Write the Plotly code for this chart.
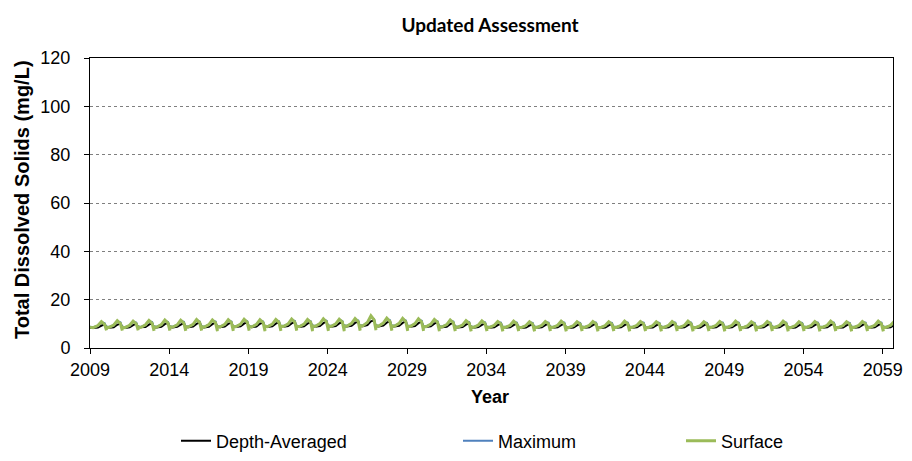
import plotly.graph_objects as go

# ---- data (6 samples per year, positions within the year) ----
years = list(range(2009, 2060))
sample_fractions = [0.0, 0.2, 0.5, 0.72, 0.92, 1.04]

surface_rows = [
    [8.6, 8.4, 9.3, 10.9, 9.8, 7.3], [8.7, 8.5, 9.5, 11.3, 10.1, 7.2],
    [8.7, 8.4, 9.4, 11.1, 10.0, 7.3], [8.8, 8.5, 9.6, 11.4, 10.2, 7.1],
    [8.8, 8.6, 9.7, 11.6, 10.3, 7.2], [8.9, 8.6, 9.6, 11.5, 10.3, 7.1],
    [8.9, 8.7, 9.8, 11.8, 10.5, 7.2], [8.9, 8.6, 9.7, 11.6, 10.4, 7.0],
    [9.0, 8.7, 9.8, 11.7, 10.5, 7.1], [9.0, 8.8, 9.9, 11.9, 10.6, 7.2],
    [9.0, 8.7, 9.8, 11.7, 10.5, 7.0], [9.1, 8.8, 9.9, 11.8, 10.6, 7.1],
    [9.1, 8.9, 10.0, 12.0, 10.7, 7.2], [9.1, 8.8, 9.9, 11.8, 10.6, 7.0],
    [9.2, 8.9, 10.1, 12.1, 10.8, 7.1], [9.2, 8.9, 10.0, 11.9, 10.7, 7.0],
    [9.2, 9.0, 10.2, 12.2, 10.9, 7.2], [9.3, 9.1, 10.6, 13.3, 11.6, 7.4],
    [9.3, 9.0, 10.3, 12.4, 11.0, 7.2], [9.2, 9.0, 10.2, 12.3, 10.9, 7.1],
    [9.1, 8.9, 10.1, 12.1, 10.8, 7.1], [9.0, 8.8, 9.9, 11.8, 10.6, 7.0],
    [8.9, 8.7, 9.7, 11.6, 10.4, 7.0], [8.8, 8.6, 9.5, 11.3, 10.2, 6.9],
    [8.8, 8.5, 9.5, 11.2, 10.1, 7.0], [8.7, 8.5, 9.4, 11.0, 10.0, 6.9],
    [8.7, 8.5, 9.4, 11.1, 10.0, 7.0], [8.7, 8.4, 9.3, 10.9, 9.9, 6.9],
    [8.7, 8.5, 9.4, 11.0, 10.0, 7.0], [8.7, 8.5, 9.4, 11.1, 10.0, 6.9],
    [8.6, 8.4, 9.3, 10.9, 9.9, 7.0], [8.7, 8.5, 9.4, 11.0, 10.0, 6.9],
    [8.6, 8.4, 9.3, 10.9, 9.9, 7.0], [8.7, 8.5, 9.4, 11.1, 10.0, 6.9],
    [8.7, 8.5, 9.4, 11.0, 10.0, 7.0], [8.6, 8.4, 9.3, 10.9, 9.9, 6.9],
    [8.7, 8.5, 9.4, 11.0, 10.0, 7.0], [8.7, 8.5, 9.4, 11.1, 10.0, 6.9],
    [8.6, 8.4, 9.3, 10.9, 9.9, 7.0], [8.7, 8.5, 9.4, 11.0, 10.0, 6.9],
    [8.7, 8.5, 9.4, 11.1, 10.0, 7.0], [8.6, 8.4, 9.3, 10.9, 9.9, 6.9],
    [8.7, 8.5, 9.4, 11.0, 10.0, 7.0], [8.7, 8.5, 9.4, 11.1, 10.0, 6.9],
    [8.6, 8.4, 9.3, 10.9, 9.9, 7.0], [8.7, 8.5, 9.4, 11.0, 10.0, 6.9],
    [8.7, 8.5, 9.4, 11.1, 10.0, 7.0], [8.6, 8.4, 9.3, 10.9, 9.9, 6.9],
    [8.7, 8.5, 9.4, 11.0, 10.0, 7.0], [8.7, 8.5, 9.4, 11.1, 10.0, 6.9],
    [8.7, 8.5, 9.4, 11.0, 10.0, 7.0],
]

maximum_rows = [
    [8.8, 8.6, 9.2, 10.6, 10.3, 8.1], [8.9, 8.7, 9.4, 11.0, 10.6, 8.0],
    [8.9, 8.6, 9.3, 10.8, 10.5, 8.1], [9.0, 8.7, 9.5, 11.1, 10.7, 7.9],
    [9.0, 8.8, 9.6, 11.3, 10.8, 8.0], [9.1, 8.8, 9.5, 11.2, 10.8, 7.9],
    [9.1, 8.9, 9.7, 11.5, 11.0, 8.0], [9.1, 8.8, 9.6, 11.3, 10.9, 7.8],
    [9.2, 8.9, 9.7, 11.4, 11.0, 7.9], [9.2, 9.0, 9.8, 11.6, 11.1, 8.0],
    [9.2, 8.9, 9.7, 11.4, 11.0, 7.8], [9.3, 9.0, 9.8, 11.5, 11.1, 7.9],
    [9.3, 9.1, 9.9, 11.7, 11.2, 8.0], [9.3, 9.0, 9.8, 11.5, 11.1, 7.8],
    [9.4, 9.1, 10.0, 11.8, 11.3, 7.9], [9.4, 9.1, 9.9, 11.6, 11.2, 7.8],
    [9.4, 9.2, 10.1, 11.9, 11.4, 8.0], [9.5, 9.3, 10.5, 12.9, 12.0, 8.2],
    [9.5, 9.2, 10.2, 12.1, 11.5, 8.0], [9.4, 9.2, 10.1, 12.0, 11.4, 7.9],
    [9.3, 9.1, 10.0, 11.8, 11.3, 7.9], [9.2, 9.0, 9.8, 11.5, 11.1, 7.8],
    [9.1, 8.9, 9.6, 11.3, 10.9, 7.8], [9.0, 8.8, 9.4, 11.0, 10.7, 7.7],
    [9.0, 8.7, 9.4, 10.9, 10.6, 7.8], [8.9, 8.7, 9.3, 10.7, 10.5, 7.7],
    [8.9, 8.7, 9.3, 10.8, 10.5, 7.8], [8.9, 8.6, 9.2, 10.6, 10.4, 7.7],
    [8.9, 8.7, 9.3, 10.7, 10.5, 7.8], [8.9, 8.7, 9.3, 10.8, 10.5, 7.7],
    [8.8, 8.6, 9.2, 10.6, 10.4, 7.8], [8.9, 8.7, 9.3, 10.7, 10.5, 7.7],
    [8.8, 8.6, 9.2, 10.6, 10.4, 7.8], [8.9, 8.7, 9.3, 10.8, 10.5, 7.7],
    [8.9, 8.7, 9.3, 10.7, 10.5, 7.8], [8.8, 8.6, 9.2, 10.6, 10.4, 7.7],
    [8.9, 8.7, 9.3, 10.7, 10.5, 7.8], [8.9, 8.7, 9.3, 10.8, 10.5, 7.7],
    [8.8, 8.6, 9.2, 10.6, 10.4, 7.8], [8.9, 8.7, 9.3, 10.7, 10.5, 7.7],
    [8.9, 8.7, 9.3, 10.8, 10.5, 7.8], [8.8, 8.6, 9.2, 10.6, 10.4, 7.7],
    [8.9, 8.7, 9.3, 10.7, 10.5, 7.8], [8.9, 8.7, 9.3, 10.8, 10.5, 7.7],
    [8.8, 8.6, 9.2, 10.6, 10.4, 7.8], [8.9, 8.7, 9.3, 10.7, 10.5, 7.7],
    [8.9, 8.7, 9.3, 10.8, 10.5, 7.8], [8.8, 8.6, 9.2, 10.6, 10.4, 7.7],
    [8.9, 8.7, 9.3, 10.7, 10.5, 7.8], [8.9, 8.7, 9.3, 10.8, 10.5, 7.7],
    [8.9, 8.7, 9.3, 10.7, 10.5, 7.8],
]

depth_avg_rows = [
    [8.4, 8.3, 8.5, 9.3, 9.9, 8.6], [8.5, 8.4, 8.6, 9.6, 10.2, 8.6],
    [8.5, 8.3, 8.6, 9.5, 10.1, 8.6], [8.6, 8.4, 8.7, 9.7, 10.3, 8.5],
    [8.6, 8.5, 8.8, 9.9, 10.4, 8.6], [8.7, 8.5, 8.8, 9.8, 10.4, 8.5],
    [8.7, 8.6, 8.9, 10.0, 10.6, 8.6], [8.7, 8.5, 8.8, 9.9, 10.5, 8.5],
    [8.8, 8.6, 8.9, 10.0, 10.6, 8.5], [8.8, 8.7, 9.0, 10.1, 10.7, 8.6],
    [8.8, 8.6, 8.9, 10.0, 10.6, 8.5], [8.9, 8.7, 9.0, 10.1, 10.7, 8.5],
    [8.9, 8.8, 9.1, 10.2, 10.8, 8.6], [8.9, 8.7, 9.0, 10.1, 10.7, 8.5],
    [9.0, 8.8, 9.1, 10.3, 10.9, 8.5], [9.0, 8.8, 9.1, 10.2, 10.8, 8.5],
    [9.0, 8.9, 9.2, 10.4, 11.0, 8.6], [9.1, 9.0, 9.5, 11.0, 11.5, 8.8],
    [9.1, 8.9, 9.3, 10.5, 11.1, 8.6], [9.0, 8.9, 9.2, 10.4, 11.0, 8.5],
    [8.9, 8.8, 9.1, 10.3, 10.9, 8.5], [8.8, 8.7, 9.0, 10.1, 10.7, 8.5],
    [8.7, 8.6, 8.8, 9.9, 10.5, 8.4], [8.6, 8.5, 8.7, 9.7, 10.3, 8.4],
    [8.6, 8.4, 8.7, 9.6, 10.2, 8.4], [8.5, 8.4, 8.6, 9.5, 10.1, 8.3],
    [8.5, 8.4, 8.6, 9.5, 10.1, 8.4], [8.5, 8.3, 8.5, 9.4, 10.0, 8.3],
    [8.5, 8.4, 8.6, 9.5, 10.1, 8.4], [8.5, 8.4, 8.6, 9.5, 10.1, 8.3],
    [8.4, 8.3, 8.5, 9.4, 10.0, 8.4], [8.5, 8.4, 8.6, 9.5, 10.1, 8.3],
    [8.4, 8.3, 8.5, 9.4, 10.0, 8.4], [8.5, 8.4, 8.6, 9.5, 10.1, 8.3],
    [8.5, 8.4, 8.6, 9.5, 10.1, 8.4], [8.4, 8.3, 8.5, 9.4, 10.0, 8.3],
    [8.5, 8.4, 8.6, 9.5, 10.1, 8.4], [8.5, 8.4, 8.6, 9.5, 10.1, 8.3],
    [8.4, 8.3, 8.5, 9.4, 10.0, 8.4], [8.5, 8.4, 8.6, 9.5, 10.1, 8.3],
    [8.5, 8.4, 8.6, 9.5, 10.1, 8.4], [8.4, 8.3, 8.5, 9.4, 10.0, 8.3],
    [8.5, 8.4, 8.6, 9.5, 10.1, 8.4], [8.5, 8.4, 8.6, 9.5, 10.1, 8.3],
    [8.4, 8.3, 8.5, 9.4, 10.0, 8.4], [8.5, 8.4, 8.6, 9.5, 10.1, 8.3],
    [8.5, 8.4, 8.6, 9.5, 10.1, 8.4], [8.4, 8.3, 8.5, 9.4, 10.0, 8.3],
    [8.5, 8.4, 8.6, 9.5, 10.1, 8.4], [8.5, 8.4, 8.6, 9.5, 10.1, 8.3],
    [8.5, 8.4, 8.6, 9.5, 10.1, 8.4],
]

tick_years = list(range(2009, 2060, 5))
y_ticks = [0, 20, 40, 60, 80, 100, 120]

# ---- build time axis from years and sample positions ----
x = [yr + f for yr in years for f in sample_fractions]
def flat(rows):
    return [v for r in rows for v in r]

series = [
    ("Depth-Averaged", flat(depth_avg_rows), "#000000", 2.0, "legend"),
    ("Maximum", flat(maximum_rows), "#4F81BD", 2.0, "legend2"),
    ("Surface", flat(surface_rows), "#9BBB59", 3.0, "legend3"),
]

fig = go.Figure()
for name, vals, color, w, lg in series:
    fig.add_trace(go.Scatter(x=x, y=vals, mode="lines", name=name,
                             line=dict(color=color, width=w), legend=lg))

FONT = "Liberation Sans, Arial, sans-serif"
FS = 18
# page body has an 8px default margin; figure is sized so the plot lands in place
W, H = 904, 453
L, T, R, B = 82, 50, 19, 113
PW, PH = W - L - R, H - T - B

def px_x(p):   # window pixel -> paper x
    return (p - 8 - L) / PW
def px_y(p):   # window pixel -> paper y
    return 1 - (p - 8 - T) / PH

leg_common = dict(orientation="h", yanchor="middle", xanchor="left",
                  bgcolor="rgba(0,0,0,0)", font=dict(family=FONT, size=FS, color="#000"))

fig.update_layout(
    width=W, height=H,
    margin=dict(l=L, r=R, t=T, b=B, autoexpand=False),
    paper_bgcolor="white", plot_bgcolor="white",
    title=dict(text="<b>Updated Assessment</b>", xref="container", yref="container",
               x=(490 - 8) / W, xanchor="center", y=1 - (25 - 8) / H, yanchor="middle",
               font=dict(family="Lato, Open Sans, sans-serif", size=19, color="#000")),
    showlegend=True,
    legend=dict(x=px_x(176), y=px_y(441), **leg_common),
    legend2=dict(x=px_x(458), y=px_y(441), **leg_common),
    legend3=dict(x=px_x(681), y=px_y(441), **leg_common),
    xaxis=dict(range=[2009, 2059.65], tickmode="array", tickvals=tick_years,
               ticktext=[str(t) for t in tick_years],
               ticks="outside", ticklen=5, tickcolor="#000", tickwidth=1,
               ticklabelstandoff=0, automargin=False,
               showline=True, linecolor="#000", linewidth=1, mirror=True,
               showgrid=False, zeroline=False,
               tickfont=dict(family=FONT, size=FS, color="#000")),
    yaxis=dict(range=[0, 120], tickmode="array", tickvals=y_ticks,
               ticks="outside", ticklen=5, tickcolor="#000", tickwidth=1,
               ticklabelstandoff=10, automargin=False,
               showline=True, linecolor="#000", linewidth=1, mirror=True,
               showgrid=True, gridcolor="#7f7f7f", griddash="dot", gridwidth=1,
               zeroline=False,
               tickfont=dict(family=FONT, size=FS, color="#000")),
    annotations=[
        dict(text="<b>Year</b>", xref="paper", yref="paper", x=px_x(490), y=px_y(397),
             xanchor="center", yanchor="middle", showarrow=False,
             font=dict(family=FONT, size=FS, color="#000")),
        dict(text="<b>Total Dissolved Solids (mg/L)</b>", xref="paper", yref="paper",
             x=px_x(22), y=px_y(200), xanchor="center", yanchor="middle",
             textangle=-90, showarrow=False,
             font=dict(family=FONT, size=20, color="#000")),
    ],
)

fig.write_html("out.html")
